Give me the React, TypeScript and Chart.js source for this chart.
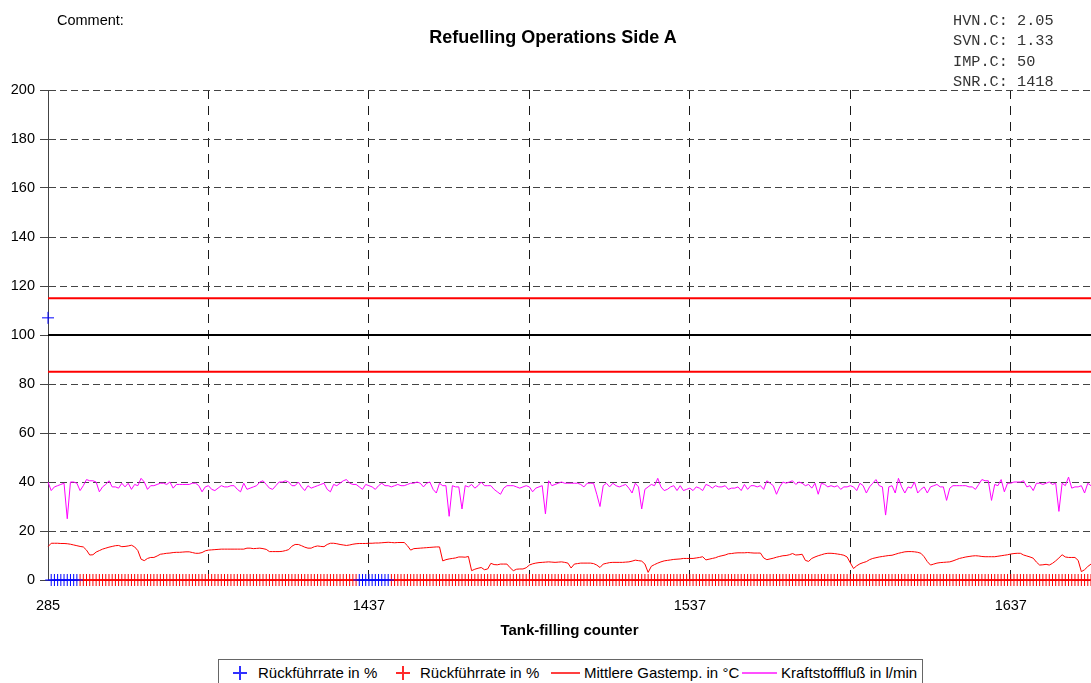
import React, { useEffect, useRef } from 'react';
import { Chart, registerables } from 'chart.js';

Chart.register(...registerables);

// ---------------- DATA ----------------
// Tank-filling counter: first record 285, then a continuous run 1338..1662
const firstCounter = 285;
const runStartCounter = 1338;
const runEndCounter = 1662;
const tankCounters: string[] = [String(firstCounter)];
for (let c = runStartCounter; c <= runEndCounter; c++) tankCounters.push(String(c));

const xTickLabels = ['285', '1437', '1537', '1637'];
const yMin = 0;
const yMax = 200;
const yStep = 20;

// Limit / target lines (values only)
const limitValues = [115, 100, 85];

// Rückführrate (blue markers)
const recircBlueCounters = ['285', '1338', '1339', '1340', '1341', '1342', '1343', '1344', '1345', '1346',
  '1434', '1435', '1436', '1437', '1438', '1439', '1440', '1441', '1442', '1443'];
const recircBlueValues = [107, 0, 0, 0, 0, 0, 0, 0, 0, 0, 0, 0, 0, 0, 0, 0, 0, 0, 0, 0];
// Rückführrate (red markers) for all remaining counters
const recircRedValue = 0;

// Mittlere Gastemp. in °C
const gasTemp = [
  13.6, 15, 15, 15, 14.9, 14.9, 14.8, 14.6, 14.3, 14,
  13.7, 13.5, 12.2, 10.2, 10.3, 11.4, 12, 12.6, 13, 13.4,
  13.7, 14, 14.1, 13.6, 13.7, 13.9, 14.2, 13.5, 12, 8.5,
  7.9, 8.8, 9.2, 9.2, 9.8, 10.5, 10.7, 10.9, 11, 11.2,
  11.3, 11.3, 11.4, 11.5, 11.5, 11.2, 10.9, 10.9, 11.2, 11.9,
  12.2, 12.3, 12.4, 12.5, 12.6, 12.6, 12.6, 12.6, 12.6, 12.6,
  12.6, 12.6, 13, 13, 12.8, 12.9, 13, 12.8, 12.5, 11.6,
  11.6, 11.6, 11.6, 11.7, 12, 12.4, 13.8, 14.5, 14.5, 14,
  13.4, 13, 13, 13.6, 13.9, 13.7, 13.6, 14.5, 15, 15,
  14.8, 14.5, 14.3, 14.1, 14.3, 14.6, 14.8, 14.9, 14.9, 14.9,
  15, 15, 15.1, 15.1, 15.2, 15.3, 15.4, 15.3, 15.2, 15.3,
  15.3, 15.3, 14, 12.2, 12.8, 12.9, 13, 13.1, 13.2, 13.3,
  13.4, 13.5, 13.5, 7.8, 8.3, 8.6, 8.8, 9, 9.4, 9.4,
  9.3, 9.6, 3.8, 4.4, 4.8, 5.1, 4.2, 4.5, 6.8, 6.3,
  6.2, 6.5, 6.5, 6.5, 5, 3.8, 4.4, 4.5, 4.5, 5,
  6.1, 6.6, 6.9, 7.1, 7.2, 7.3, 7.4, 7.3, 7.2, 7.3,
  7.4, 7.2, 6.9, 4.9, 6.5, 6.7, 6.9, 6.9, 6.9, 6.9,
  6.7, 6.1, 5.1, 6.5, 6.8, 7.1, 7.2, 7.2, 7.2, 7.2,
  7.3, 7.4, 7.7, 8.1, 7.9, 7.7, 6.5, 3.1, 5.6, 6.3,
  6.9, 7.4, 7.8, 8, 8.2, 8.4, 8.5, 8.6, 8.8, 8.8,
  8.8, 8.8, 9, 9.2, 9.5, 8.2, 8.5, 8.8, 9.1, 9.6,
  9.9, 10.2, 10.7, 10.8, 11, 11.1, 11.1, 11.1, 11.2, 11.1,
  11, 11, 11, 9, 8.3, 8.6, 8.9, 9.3, 9.6, 9.9,
  10, 10.3, 10.8, 10.2, 10.3, 10.5, 8, 7.6, 8.8, 9.4,
  9.9, 10.3, 10.7, 10.9, 10.9, 10.8, 10.6, 10.4, 10.1, 9.4,
  7, 4.7, 5.8, 6.6, 7.1, 7.5, 8.3, 8.8, 9.1, 9.4,
  9.6, 9.8, 10, 10.1, 10.5, 10.9, 11.2, 11.5, 11.6, 11.6,
  11.5, 11.3, 10.9, 9.5, 7.5, 6.1, 6.5, 6.9, 7.1, 7.2,
  7.3, 7.4, 7.8, 8.3, 8.8, 9.1, 9.4, 9.6, 9.8, 9.9,
  9.8, 9.6, 9.5, 9.5, 9.5, 9.5, 9.7, 9.9, 10.1, 10.3,
  10.6, 10.8, 10.9, 10.9, 10.2, 9.8, 9.4, 8.9, 7.3, 6.1,
  6.2, 6.4, 6.1, 6.8, 7.8, 9, 10.3, 9.4, 9.2, 9.2,
  9.2, 8, 3.4, 4.2, 5.5, 6.5,
];

// Kraftstofffluß in l/min
const fuelFlow = [
  40, 36.5, 38, 38.5, 39, 39.5, 25, 40, 40, 39.5,
  36.5, 38.5, 41, 40.5, 40.5, 40, 36, 38, 39, 40.5,
  38, 38, 37.5, 39.5, 38, 39.5, 37, 39, 38.5, 41.5,
  40, 37, 38.5, 38.5, 39, 39.5, 39.5, 39, 40, 37.5,
  39, 39, 39, 39, 39, 39.5, 39.5, 38.5, 36, 38,
  38.5, 37, 36.5, 37.5, 38.5, 38, 38, 38.5, 38.5, 37,
  36, 39.5, 37, 37.5, 38, 38.5, 40, 40.5, 39, 37.5,
  37, 38.5, 40, 40, 40.5, 40, 38.5, 38.5, 40, 38,
  36.5, 38.5, 37.5, 38, 38.5, 39, 39.5, 37, 36, 39,
  38.5, 39.5, 40.5, 41, 39.5, 39, 39, 38, 37, 39,
  38.5, 38, 37, 38.5, 39.5, 38.5, 38.5, 38, 38.5, 39,
  38.5, 38.5, 39, 39.5, 39.5, 40, 39.5, 38, 39.5, 40,
  37, 35.5, 39.5, 38.5, 38.5, 26, 38.5, 38, 38, 29,
  38.5, 38, 39, 37.5, 38.5, 40, 38.5, 38.5, 38.5, 37,
  36, 35, 37.5, 38.5, 38.5, 38.5, 38, 37.5, 38, 38.5,
  38, 36, 37.5, 38, 38.5, 27, 40.5, 38.5, 39, 39.5,
  40, 39.5, 39.5, 39.5, 39.5, 39.5, 39, 38, 39.5, 39.5,
  39.5, 35, 30, 38.5, 39.5, 38, 39.5, 38.5, 38, 38.5,
  39, 37.5, 35.5, 39.5, 38, 29, 37, 38, 39, 38.5,
  41.5, 38, 36.5, 37, 38, 38.5, 36.5, 38.5, 36.5, 37,
  37.5, 36.5, 38, 37.5, 36.5, 39, 38.5, 37.5, 38.5, 38,
  38, 38.5, 37, 37.5, 37.5, 38, 36.5, 39, 37, 38.5,
  38.5, 38, 38.5, 37, 40.5, 39.5, 38.5, 35, 38, 40,
  39.5, 40, 40.5, 39, 40, 39.5, 38.5, 39, 37.5, 39.5,
  35, 39.5, 39, 38, 38.5, 38, 38.5, 37, 38, 38,
  38.5, 38, 36.5, 39.5, 38.5, 35.5, 38, 39.5, 41, 38.5,
  38, 26.5, 38, 38.5, 35.5, 41.5, 38, 35.5, 38, 37.5,
  40, 35.5, 37, 38, 35.5, 38, 38.5, 39, 38, 38,
  32.5, 37.5, 38.5, 38.5, 38.5, 38.5, 38.5, 38, 38, 37,
  39, 41, 40.5, 40.5, 32.5, 39, 38.5, 41, 36, 39.5,
  39.5, 40, 40, 40, 40.5, 38, 38.5, 36.5, 39.5, 39.5,
  39, 39.5, 40, 39, 39.5, 28, 39.5, 38.5, 42, 37.5,
  38, 38, 38.5, 35.5, 39.5, 38.5,
];

const infoLines = ['HVN.C: 2.05', 'SVN.C: 1.33', 'IMP.C: 50', 'SNR.C: 1418'];
const titleText = 'Refuelling Operations Side A';
const commentText = 'Comment:';
const xAxisTitle = 'Tank-filling counter';
const legendLabels = ['Rückführrate in %', 'Rückführrate in %', 'Mittlere Gastemp. in °C', 'Kraftstofffluß in l/min'];

// ---------------- STYLE ----------------
const SANS = "'Liberation Sans', Arial, Helvetica, sans-serif";
const MONO = "'Liberation Mono', 'Courier New', monospace";
const limitColors = ['#ff0000', '#000000', '#ff0000'];

const limitLinesPlugin = {
  id: 'limitLines',
  beforeDatasetsDraw(chart: any) {
    const { ctx, chartArea, scales } = chart;
    const y = scales.y;
    ctx.save();
    limitValues.forEach((v, i) => {
      const py = y.getPixelForValue(v);
      ctx.beginPath();
      ctx.strokeStyle = limitColors[i];
      ctx.lineWidth = 2;
      ctx.moveTo(chartArea.left, py);
      ctx.lineTo(chartArea.right, py);
      ctx.stroke();
    });
    ctx.restore();
  },
};

function Cross({ color, left, top }: { color: string; left: number; top: number }) {
  return (
    <div style={{ position: 'absolute', left, top, width: 14, height: 14 }}>
      <div style={{ position: 'absolute', left: 6, top: 0, width: 1.5, height: 14, backgroundColor: color }} />
      <div style={{ position: 'absolute', left: 0, top: 6, width: 14, height: 1.5, backgroundColor: color }} />
    </div>
  );
}

export default function App() {
  const canvasRef = useRef<HTMLCanvasElement | null>(null);

  useEffect(() => {
    if (!canvasRef.current) return;
    const blueData = tankCounters.map((c) => {
      const k = recircBlueCounters.indexOf(c);
      return k >= 0 ? recircBlueValues[k] : null;
    });
    const redData = tankCounters.map((c) => (recircBlueCounters.includes(c) ? null : recircRedValue));

    const chart = new Chart(canvasRef.current, {
      type: 'line',
      data: {
        labels: tankCounters,
        datasets: [
          {
            label: legendLabels[0],
            data: blueData,
            showLine: false,
            pointStyle: 'cross',
            pointRadius: 6,
            pointBorderWidth: 1,
            borderColor: '#0000ff',
            backgroundColor: '#0000ff',
            clip: false as any,
          },
          {
            label: legendLabels[1],
            data: redData,
            showLine: false,
            pointStyle: 'cross',
            pointRadius: 6,
            pointBorderWidth: 1,
            borderColor: '#ff0000',
            backgroundColor: '#ff0000',
            clip: false as any,
          },
          {
            label: legendLabels[2],
            data: gasTemp,
            borderColor: '#ff0000',
            borderWidth: 1,
            pointRadius: 0,
            tension: 0,
            fill: false,
          },
          {
            label: legendLabels[3],
            data: fuelFlow,
            borderColor: '#ff00ff',
            borderWidth: 1,
            pointRadius: 0,
            tension: 0,
            fill: false,
          },
        ],
      },
      options: {
        animation: false,
        responsive: false,
        devicePixelRatio: 1,
        events: [],
        layout: { autoPadding: false, padding: { top: 90, left: 0, right: 0, bottom: 43 } },
        plugins: {
          legend: { display: false },
          title: { display: false },
          tooltip: { enabled: false },
        },
        scales: {
          x: {
            type: 'category',
            offset: false,
            border: { display: false, dash: [9, 7] },
            grid: {
              drawTicks: true,
              tickLength: 17,
              tickColor: 'rgba(0,0,0,0)',
              lineWidth: 1,
              color: (ctx: any) => (ctx.index > 0 && ctx.index % 50 === 0 ? '#1a1a1a' : 'rgba(0,0,0,0)'),
            },
            ticks: {
              autoSkip: false,
              maxRotation: 0,
              minRotation: 0,
              padding: 0,
              color: '#000',
              font: { family: SANS, size: 14.5 },
              callback: function (this: any, value: any) {
                const lbl = String(this.getLabelForValue(value));
                return xTickLabels.includes(lbl) ? lbl : '';
              },
            },
            title: {
              display: true,
              text: xAxisTitle,
              color: '#000',
              font: { family: SANS, size: 15, weight: 'bold' },
              padding: { top: 0, bottom: 0 },
            },
            afterFit: (scale: any) => {
              scale.height = 60;
              scale.paddingRight = 0;
            },
          },
          y: {
            min: yMin,
            max: yMax,
            border: { display: true, color: '#444', width: 1, dash: [7, 4] },
            grid: {
              color: '#444',
              lineWidth: 1,
              drawTicks: true,
              tickLength: 8,
              tickColor: '#444',
            },
            ticks: {
              stepSize: yStep,
              padding: 5,
              color: '#000',
              font: { family: SANS, size: 14.5 },
            },
            afterFit: (scale: any) => {
              scale.width = 48;
            },
          },
        },
      },
      plugins: [limitLinesPlugin],
    });
    return () => chart.destroy();
  }, []);

  const textBase: React.CSSProperties = { position: 'absolute', whiteSpace: 'nowrap', color: '#000' };

  return (
    <div style={{ position: 'absolute', left: 0, top: 0, width: 1091, height: 683, overflow: 'hidden', background: '#fff' }}>
      <canvas ref={canvasRef} width={1091} height={683} style={{ position: 'absolute', left: 0, top: 0 }} />
      <div style={{ ...textBase, left: 57, top: 11, fontFamily: SANS, fontSize: 14.5, lineHeight: '18px' }}>{commentText}</div>
      <div style={{ ...textBase, left: 0, width: 1106, top: 26, textAlign: 'center', fontFamily: SANS, fontSize: 18, fontWeight: 'bold', lineHeight: '22px' }}>{titleText}</div>
      <div style={{ ...textBase, left: 953, top: 10.7, fontFamily: MONO, fontSize: 15.25, lineHeight: '20.6px', color: '#333' }}>
        {infoLines.map((l, i) => (
          <div key={i}>{l}</div>
        ))}
      </div>
      {/* Legend */}
      <div style={{ position: 'absolute', left: 218, top: 659, width: 705, height: 40, border: '1px solid #666', boxSizing: 'border-box', background: '#fff' }} />
      <Cross color="#3030ff" left={233} top={666} />
      <div style={{ ...textBase, left: 258, top: 664, fontFamily: SANS, fontSize: 15, lineHeight: '18px' }}>{legendLabels[0]}</div>
      <Cross color="#ff2a2a" left={396} top={666} />
      <div style={{ ...textBase, left: 420, top: 664, fontFamily: SANS, fontSize: 15, lineHeight: '18px' }}>{legendLabels[1]}</div>
      <div style={{ position: 'absolute', left: 551, top: 672, width: 29, height: 2, background: '#ff4040' }} />
      <div style={{ ...textBase, left: 584, top: 664, fontFamily: SANS, fontSize: 15, lineHeight: '18px' }}>{legendLabels[2]}</div>
      <div style={{ position: 'absolute', left: 742, top: 672, width: 35, height: 2, background: '#ff50ff' }} />
      <div style={{ ...textBase, left: 781, top: 664, fontFamily: SANS, fontSize: 15, lineHeight: '18px' }}>{legendLabels[3]}</div>
    </div>
  );
}
